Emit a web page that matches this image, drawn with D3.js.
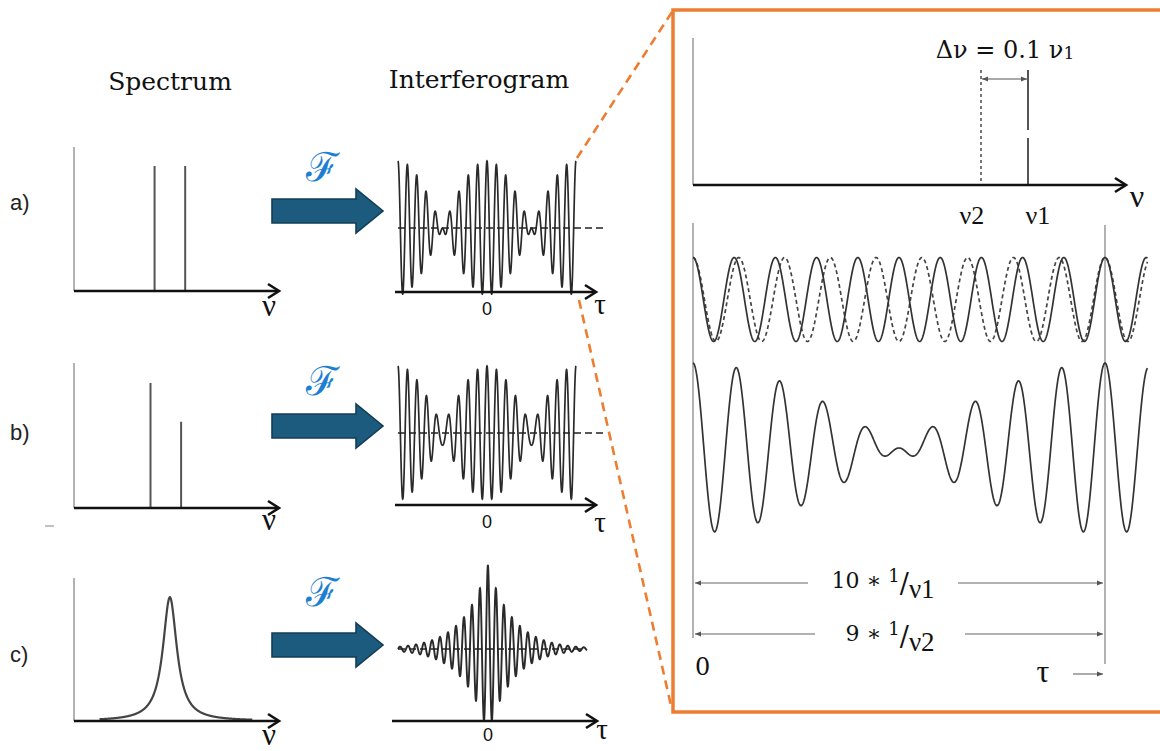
<!DOCTYPE html>
<html><head><meta charset="utf-8">
<script src="https://cdn.jsdelivr.net/npm/d3@7"></script>
<style>html,body{margin:0;padding:0;background:#fff;} svg{display:block}</style>
</head><body>
<svg id="c" width="1160" height="751"></svg>
<script>
// ---------------- data ----------------
const titles = ["Spectrum", "Interferogram"];
const panelLabels = ["a)", "b)", "c)"];
const fourierSymbol = "ℱ";
// spectrum line positions (axis units 0..2) and heights
const specLineFreqsA = [0.79, 1.09];
const specLineHeightsA = [1.0, 1.0];
const specLineFreqsB = [0.75, 1.05];
const specLineHeightsB = [1.0, 0.69];
// Lorentzian line of panel c
const lorentzCenterC = [0.94];
const lorentzHwhmC = [0.083];
const lorentzHeightC = [0.99];
// interferogram carriers: nu1, nu2 (delta nu = 0.1 nu1)
const carrierFreqs = [1.0, 0.9];
const carrierAmpsA = [1.0, 1.0];
const carrierAmpsB = [0.69, 1.0];
const tauRangeAB = [-10, 10];
const dampFreqC = [1.0];
const dampDecayC = [3.1];
const tauRangeC = [-11.25, 12.4];
// zoomed panel
const zoomLineFreqs = [1.0, 0.9];
const zoomLineLabels = ["ν1", "ν2"];
const zoomTauRange = [0, 11.03];
const zoomTauMarks = [0, 10];
const deltaLabel = ["Δν = 0.1 ν", "1"];
const periodLabels = [["10 ∗ ", "1", "/", "ν1"], ["9 ∗ ", "1", "/", "ν2"]];

// ---------------- drawing ----------------
const svg = d3.select("#c");
const defs = svg.append("defs");
defs.append("marker").attr("id", "tri").attr("viewBox", "0 -5 10 10")
  .attr("refX", 10).attr("refY", 0).attr("markerWidth", 7).attr("markerHeight", 6)
  .attr("markerUnits", "userSpaceOnUse").attr("orient", "auto-start-reverse")
  .append("path").attr("d", "M0,-4L10,0L0,4Z").attr("fill", "#555");

const serif = "'DejaVu Serif', serif";
const greek = "'Liberation Serif', 'DejaVu Serif', serif";
const sans = "'Liberation Sans', Arial, sans-serif";

function axisArrow(g, x1, x2, y, w = 2.6) {
  g.append("line").attr("x1", x1).attr("x2", x2 - 1).attr("y1", y).attr("y2", y)
    .attr("stroke", "#111").attr("stroke-width", w);
  g.append("path").attr("d", `M${x2 - 11},${y - 7}L${x2},${y}L${x2 - 11},${y + 7}`)
    .attr("fill", "none").attr("stroke", "#111").attr("stroke-width", w)
    .attr("stroke-linejoin", "miter");
}
function vline(g, x, y1, y2, color = "#999", w = 1.5) {
  g.append("line").attr("x1", x).attr("x2", x).attr("y1", y1).attr("y2", y2)
    .attr("stroke", color).attr("stroke-width", w);
}

// titles
svg.append("text").attr("x", 170).attr("y", 90).attr("text-anchor", "middle")
  .attr("font-family", serif).attr("font-size", 25).attr("fill", "#111").text(titles[0]);
svg.append("text").attr("x", 479).attr("y", 88).attr("text-anchor", "middle")
  .attr("font-family", serif).attr("font-size", 25).attr("fill", "#111").text(titles[1]);

// orange zoom box + connectors
svg.append("rect").attr("x", 673).attr("y", 10).attr("width", 520).attr("height", 702)
  .attr("fill", "none").attr("stroke", "#ED7D31").attr("stroke-width", 3.5);
svg.append("line").attr("x1", 577).attr("y1", 158).attr("x2", 672).attr("y2", 12)
  .attr("stroke", "#ED7D31").attr("stroke-width", 2.6).attr("stroke-dasharray", "9,6");
svg.append("line").attr("x1", 579).attr("y1", 300).attr("x2", 672).attr("y2", 710)
  .attr("stroke", "#ED7D31").attr("stroke-width", 2.6).attr("stroke-dasharray", "9,6");

// ---- spectra ----
const specAxisY = [291, 508, 721];
const specTopY = [147, 363, 578];
const sx = d3.scaleLinear().domain([0, 2]).range([74, 278]);
const specData = [
  specLineFreqsA.map((f, i) => ({f, h: specLineHeightsA[i]})),
  specLineFreqsB.map((f, i) => ({f, h: specLineHeightsB[i]})),
  null
];
const labelY = [210, 440, 662];
const arrowY = [211, 426, 645];
const fY = [181, 395, 606];
const nuLabelY = [316, 530, 745];

specAxisY.forEach((ay, i) => {
  const g = svg.append("g");
  const sy = d3.scaleLinear().domain([0, 1]).range([ay, ay - 125]);
  vline(g, sx(0), specTopY[i], ay, "#999", 1.5);
  if (specData[i]) {
    g.selectAll("line.pk").data(specData[i]).enter().append("line")
      .attr("x1", d => sx(d.f)).attr("x2", d => sx(d.f))
      .attr("y1", sy(0)).attr("y2", d => sy(d.h))
      .attr("stroke", "#555").attr("stroke-width", 2);
  } else {
    const grid = d3.range(0.25, 1.75, 0.002);
    const pts = grid.map(n => [n, lorentzHeightC[0] / (1 + Math.pow((n - lorentzCenterC[0]) / lorentzHwhmC[0], 2))]);
    g.append("path").datum(pts)
      .attr("d", d3.line().x(d => sx(d[0])).y(d => sy(d[1])))
      .attr("fill", "none").attr("stroke", "#444").attr("stroke-width", 2.2);
  }
  axisArrow(g, sx(0), 279, ay);
  g.append("text").attr("x", 269).attr("y", nuLabelY[i]).attr("text-anchor", "middle")
    .attr("font-family", greek).attr("font-size", 31).attr("fill", "#111").text("ν");
  g.append("text").attr("x", 10).attr("y", labelY[i]).attr("font-family", sans)
    .attr("font-size", 22).attr("fill", "#222").text(panelLabels[i]);
  // blue Fourier arrow
  const cy = arrowY[i];
  g.append("path")
    .attr("d", `M272,${cy - 12}L356,${cy - 12}L356,${cy - 22}L383,${cy}L356,${cy + 22}L356,${cy + 12}L272,${cy + 12}Z`)
    .attr("fill", "#1C5B7D").attr("stroke", "#123E56").attr("stroke-width", 1.6)
    .attr("stroke-linejoin", "miter");
  g.append("text").attr("x", 322).attr("y", fY[i]).attr("text-anchor", "middle")
    .attr("font-family", "'DejaVu Serif', serif")
    .attr("font-size", 40).attr("fill", "#1E7FD2").text(fourierSymbol);
});
// faint stray dash in panel b
svg.append("line").attr("x1", 45).attr("x2", 54).attr("y1", 526).attr("y2", 526)
  .attr("stroke", "#999").attr("stroke-width", 1.2);

// ---- interferograms ----
const intCenterY = [228, 433, 649];
const intAxisY = [292, 505, 721];
const zeroLabelY = [315, 528, 741];
const tauLabelY = [314, 532, 739];
const txAB = d3.scaleLinear().domain(tauRangeAB).range([398, 576]);
const txC = d3.scaleLinear().domain(tauRangeC).range([398, 587]);

[carrierAmpsA, carrierAmpsB].forEach((amps, i) => {
  const g = svg.append("g");
  const mx = d3.sum(amps);
  const sy = d3.scaleLinear().domain([-mx, mx]).range([intCenterY[i] + 67, intCenterY[i] - 67]);
  const grid = d3.range(tauRangeAB[0], tauRangeAB[1] + 0.0001, 0.01);
  const pts = grid.map(t => [t, d3.sum(carrierFreqs, (f, k) => amps[k] * Math.cos(2 * Math.PI * f * t))]);
  g.append("path").datum(pts).attr("d", d3.line().x(d => txAB(d[0])).y(d => sy(d[1])))
    .attr("fill", "none").attr("stroke", "#2a2a2a").attr("stroke-width", 1.7);
  g.append("line").attr("x1", 398).attr("x2", 607).attr("y1", sy(0)).attr("y2", sy(0))
    .attr("stroke", "#222").attr("stroke-width", 1.6).attr("stroke-dasharray", "7,4");
  axisArrow(g, 395, 596, intAxisY[i]);
  g.append("text").attr("x", txAB(0)).attr("y", zeroLabelY[i]).attr("text-anchor", "middle")
    .attr("font-family", sans).attr("font-size", 18).attr("fill", "#111").text("0");
  g.append("text").attr("x", 600).attr("y", tauLabelY[i]).attr("text-anchor", "middle")
    .attr("font-family", greek).attr("font-size", 29).attr("fill", "#111").text("τ");
});
{
  const g = svg.append("g");
  const sy = d3.scaleLinear().domain([-1, 1]).range([intCenterY[2] + 84, intCenterY[2] - 84]);
  const grid = d3.range(tauRangeC[0], tauRangeC[1] + 0.0001, 0.01);
  const pts = grid.map(t => [t, Math.exp(-Math.abs(t) / dampDecayC[0]) * Math.cos(2 * Math.PI * dampFreqC[0] * t)]);
  g.append("path").datum(pts).attr("d", d3.line().x(d => txC(d[0])).y(d => sy(d[1])))
    .attr("fill", "none").attr("stroke", "#2a2a2a").attr("stroke-width", 1.9);
  g.append("line").attr("x1", 398).attr("x2", 585).attr("y1", sy(0)).attr("y2", sy(0))
    .attr("stroke", "#222").attr("stroke-width", 1.6).attr("stroke-dasharray", "7,4");
  axisArrow(g, 392, 597, intAxisY[2]);
  g.append("text").attr("x", txC(0)).attr("y", zeroLabelY[2]).attr("text-anchor", "middle")
    .attr("font-family", sans).attr("font-size", 18).attr("fill", "#111").text("0");
  g.append("text").attr("x", 602).attr("y", tauLabelY[2]).attr("text-anchor", "middle")
    .attr("font-family", greek).attr("font-size", 29).attr("fill", "#111").text("τ");
}

// ---- zoomed panel ----
const zg = svg.append("g");
const zsx = d3.scaleLinear().domain([0.9, 1.0]).range([981, 1028]);
const zsy = d3.scaleLinear().domain([0, 1]).range([185, 70]);
vline(zg, 693, 38, 185, "#999", 1.5);
zg.selectAll("line.zl").data(zoomLineFreqs).enter().append("line")
  .attr("x1", d => zsx(d)).attr("x2", d => zsx(d)).attr("y1", zsy(1)).attr("y2", zsy(0))
  .attr("stroke", (d, i) => i === 0 ? "#444" : "#555").attr("stroke-width", (d, i) => i === 0 ? 1.8 : 1.6)
  .attr("stroke-dasharray", (d, i) => i === 0 ? "60,8,200" : "3,3");
axisArrow(zg, 693, 1126, 185);
zg.append("text").attr("x", 1137).attr("y", 207).attr("text-anchor", "middle")
  .attr("font-family", greek).attr("font-size", 32).attr("fill", "#111").text("ν");
zg.append("line").attr("x1", zsx(0.9) + 1).attr("x2", zsx(1.0) - 1).attr("y1", 79).attr("y2", 79)
  .attr("stroke", "#555").attr("stroke-width", 1.1)
  .attr("marker-start", "url(#tri)").attr("marker-end", "url(#tri)");
{
  const t = zg.append("text").attr("x", 1005).attr("y", 58).attr("text-anchor", "middle")
    .attr("font-family", serif).attr("font-size", 24).attr("fill", "#111");
  t.append("tspan").text(deltaLabel[0]);
  t.append("tspan").attr("font-size", 17).attr("dy", 1).text(deltaLabel[1]);
}
zg.selectAll("text.zlab").data(zoomLineFreqs).enter().append("text")
  .attr("x", (d, i) => zsx(d) + (i === 0 ? 10 : -9)).attr("y", 224).attr("text-anchor", "middle")
  .attr("font-family", greek).attr("font-size", 26).attr("fill", "#111")
  .text((d, i) => zoomLineLabels[i]);

const zx = d3.scaleLinear().domain([0, 10]).range([693, 1105]);
const zyTop = d3.scaleLinear().domain([-1, 1]).range([341.5, 257.5]);
const zyBot = d3.scaleLinear().domain([-2, 2]).range([533, 363]);
// vertical reference lines
vline(zg, zx(zoomTauMarks[0]), 223, 638, "#999", 1.5);
vline(zg, zx(zoomTauMarks[1]), 225, 664, "#999", 1.5);
const zgrid = d3.range(zoomTauRange[0], zoomTauRange[1] + 0.0001, 0.01);
zoomLineFreqs.slice().reverse().forEach((f, j) => {
  const i = 1 - j;
  zg.append("path").datum(zgrid.map(t => [t, Math.cos(2 * Math.PI * f * t)]))
    .attr("d", d3.line().x(d => zx(d[0])).y(d => zyTop(d[1])))
    .attr("fill", "none").attr("stroke", i === 0 ? "#333" : "#444")
    .attr("stroke-width", 1.7).attr("stroke-dasharray", i === 0 ? null : "4,3");
});
zg.append("path").datum(zgrid.map(t => [t, d3.sum(zoomLineFreqs, f => Math.cos(2 * Math.PI * f * t))]))
  .attr("d", d3.line().x(d => zx(d[0])).y(d => zyBot(d[1])))
  .attr("fill", "none").attr("stroke", "#333").attr("stroke-width", 1.7);

// period dimension arrows
const dimY = [583, 634];
const dimGap = [[808, 958], [815, 965]];
const dimTextY = [588, 641];
dimY.forEach((y, i) => {
  zg.append("line").attr("x1", dimGap[i][0]).attr("x2", zx(0) + 2).attr("y1", y).attr("y2", y)
    .attr("stroke", "#666").attr("stroke-width", 1.2).attr("marker-end", "url(#tri)");
  zg.append("line").attr("x1", dimGap[i][1]).attr("x2", zx(10) - 2).attr("y1", y).attr("y2", y)
    .attr("stroke", "#666").attr("stroke-width", 1.2).attr("marker-end", "url(#tri)");
  const t = zg.append("text").attr("x", (dimGap[i][0] + dimGap[i][1]) / 2).attr("y", dimTextY[i])
    .attr("text-anchor", "middle").attr("font-family", serif).attr("fill", "#111");
  const L = periodLabels[i];
  t.append("tspan").attr("font-size", 22).text(L[0]);
  t.append("tspan").attr("font-size", 18).attr("dy", -6).text(L[1]);
  t.append("tspan").attr("font-size", 27).attr("dy", 11).text(L[2]);
  t.append("tspan").attr("font-family", greek).attr("font-size", 27).attr("dy", 5).text(L[3]);
});
zg.append("text").attr("x", 695).attr("y", 675).attr("font-family", serif)
  .attr("font-size", 24).attr("fill", "#111").text("0");
zg.append("text").attr("x", 1043).attr("y", 682).attr("text-anchor", "middle")
  .attr("font-family", greek).attr("font-size", 32).attr("fill", "#111").text("τ");
zg.append("line").attr("x1", 1073).attr("x2", 1103).attr("y1", 674).attr("y2", 674)
  .attr("stroke", "#666").attr("stroke-width", 1.1).attr("marker-end", "url(#tri)");
</script>
</body></html>
